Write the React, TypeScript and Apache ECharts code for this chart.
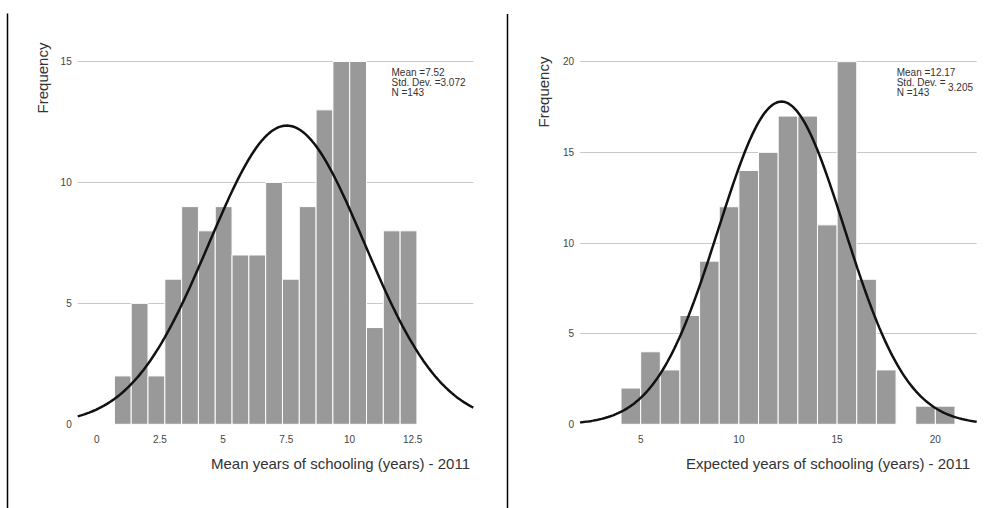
import React, { useEffect, useRef } from "react";
import * as echarts from "echarts";

// ---- Left histogram: Mean years of schooling (years) - 2011
const leftBinStart = 0.7;
const leftBinWidth = 0.665;
const leftCounts = [2, 5, 2, 6, 9, 8, 9, 7, 7, 10, 6, 9, 13, 15, 15, 4, 8, 8];
const leftMean = 7.52;
const leftSd = 3.072;
const leftN = 143;
const leftXTicks = [0, 2.5, 5, 7.5, 10, 12.5];
const leftYTicks = [0, 5, 10, 15];

// ---- Right histogram: Expected years of schooling (years) - 2011
const rightBinStart = 4;
const rightBinWidth = 1;
const rightCounts = [2, 4, 3, 6, 9, 12, 14, 15, 17, 17, 11, 20, 8, 3, 0, 1, 1];
const rightMean = 12.17;
const rightSd = 3.205;
const rightN = 143;
const rightXTicks = [5, 10, 15, 20];
const rightYTicks = [0, 5, 10, 15, 20];

const FONT = "'Liberation Sans', Arial, Helvetica, sans-serif";

function binData(start: number, width: number, counts: number[]) {
  return counts.map((c, i) => [start + i * width, start + (i + 1) * width, c]);
}

// Fitted normal curve defined by the stated Mean, Std. Dev. and N
function normalCurve(mean: number, sd: number, n: number, bw: number, x0: number, x1: number) {
  const pts: number[][] = [];
  const steps = 240;
  for (let i = 0; i <= steps; i++) {
    const x = x0 + ((x1 - x0) * i) / steps;
    const z = (x - mean) / sd;
    pts.push([x, (n * bw * Math.exp(-0.5 * z * z)) / (sd * Math.sqrt(2 * Math.PI))]);
  }
  return pts;
}

const renderBar = (params: any, api: any) => {
  const a = api.value(0);
  const b = api.value(1);
  const c = api.value(2);
  if (!c) return null;
  const p0 = api.coord([a, c]);
  const p1 = api.coord([b, 0]);
  return {
    type: "rect",
    shape: { x: p0[0], y: p0[1], width: p1[0] - p0[0], height: p1[1] - p0[1] },
    style: { fill: "#999999", stroke: "#ffffff", lineWidth: 1 },
  };
};

export default function App() {
  const ref = useRef<HTMLDivElement>(null);

  useEffect(() => {
    if (!ref.current) return;
    const chart = echarts.init(ref.current, undefined, { renderer: "svg" });

    const lMin = -0.752, lMax = 14.9;
    const rMin = 1.912, rMax = 22.105;

    const yAxisCommon = {
      type: "value" as const,
      min: 0,
      interval: 5,
      axisLine: { show: false },
      axisTick: { show: false },
      axisLabel: { color: "#444", fontSize: 10, fontFamily: FONT, margin: 6 },
      splitLine: { show: true, showMinLine: false, lineStyle: { color: "#c8c8c8", width: 1 } },
    };
    const xAxisCommon = {
      type: "value" as const,
      axisLine: { show: false },
      axisTick: { show: false },
      splitLine: { show: false },
    };

    const statStyle = {
      fontSize: 10,
      lineHeight: 10.2,
      fontFamily: FONT,
      fill: "#333",
      align: "left",
      verticalAlign: "top",
    };

    chart.setOption({
      animation: false,
      backgroundColor: "#ffffff",
      grid: [
        { left: 77.7, top: 61.5, width: 395.6, height: 362.8 },
        { left: 580, top: 61.7, width: 396.7, height: 362.6 },
      ],
      xAxis: [
        {
          ...xAxisCommon,
          gridIndex: 0,
          min: lMin,
          max: lMax,
          axisLabel: { customValues: leftXTicks, color: "#444", fontSize: 10, fontFamily: FONT, margin: 10 },
        },
        {
          ...xAxisCommon,
          gridIndex: 1,
          min: rMin,
          max: rMax,
          axisLabel: { customValues: rightXTicks, color: "#444", fontSize: 10, fontFamily: FONT, margin: 10 },
        },
      ],
      yAxis: [
        { ...yAxisCommon, gridIndex: 0, max: leftYTicks[leftYTicks.length - 1] },
        { ...yAxisCommon, gridIndex: 1, max: rightYTicks[rightYTicks.length - 1] },
      ],
      series: [
        {
          type: "custom",
          xAxisIndex: 0,
          yAxisIndex: 0,
          renderItem: renderBar,
          encode: { x: [0, 1], y: 2 },
          data: binData(leftBinStart, leftBinWidth, leftCounts),
          z: 2,
        },
        {
          type: "line",
          xAxisIndex: 0,
          yAxisIndex: 0,
          showSymbol: false,
          symbol: "none",
          data: normalCurve(leftMean, leftSd, leftN, leftBinWidth, lMin, lMax),
          lineStyle: { color: "#111", width: 2.5 },
          z: 3,
        },
        {
          type: "custom",
          xAxisIndex: 1,
          yAxisIndex: 1,
          renderItem: renderBar,
          encode: { x: [0, 1], y: 2 },
          data: binData(rightBinStart, rightBinWidth, rightCounts),
          z: 2,
        },
        {
          type: "line",
          xAxisIndex: 1,
          yAxisIndex: 1,
          showSymbol: false,
          symbol: "none",
          data: normalCurve(rightMean, rightSd, rightN, rightBinWidth, rMin, rMax),
          lineStyle: { color: "#111", width: 2.5 },
          z: 3,
        },
      ],
      graphic: [
        { type: "line", shape: { x1: 7.5, y1: 13.5, x2: 7.5, y2: 508 }, style: { stroke: "#000", lineWidth: 1.5 } },
        { type: "line", shape: { x1: 507.5, y1: 14, x2: 507.5, y2: 508 }, style: { stroke: "#000", lineWidth: 1.5 } },
        {
          type: "text",
          x: 42,
          y: 78,
          rotation: Math.PI / 2,
          style: { text: "Frequency", fontSize: 15, fontFamily: FONT, fill: "#333", align: "center", verticalAlign: "middle" },
        },
        {
          type: "text",
          x: 543.5,
          y: 92,
          rotation: Math.PI / 2,
          style: { text: "Frequency", fontSize: 15, fontFamily: FONT, fill: "#333", align: "center", verticalAlign: "middle" },
        },
        {
          type: "text",
          x: 470,
          y: 463,
          style: { text: "Mean years of schooling (years) - 2011", fontSize: 15, fontFamily: FONT, fill: "#333", align: "right", verticalAlign: "middle" },
        },
        {
          type: "text",
          x: 970,
          y: 463,
          style: { text: "Expected years of schooling (years) - 2011", fontSize: 15, fontFamily: FONT, fill: "#333", align: "right", verticalAlign: "middle" },
        },
        {
          type: "text",
          x: 391.5,
          y: 67,
          style: { ...statStyle, text: "Mean =" + leftMean + "\nStd. Dev. =" + leftSd.toFixed(3) + "\nN =" + leftN },
        },
        {
          type: "text",
          x: 896.7,
          y: 67,
          style: { ...statStyle, text: "Mean =" + rightMean + "\nStd. Dev. =\nN =" + rightN },
        },
        {
          type: "text",
          x: 948,
          y: 87.5,
          style: {
            text: rightSd.toFixed(3),
            fontSize: 10,
            fontFamily: FONT,
            fill: "#333",
            align: "left",
            verticalAlign: "middle",
          },
        },
      ],
    });

    return () => chart.dispose();
  }, []);

  return (
    <div
      ref={ref}
      style={{ position: "fixed", left: 0, top: 0, width: 987, height: 508, background: "#fff" }}
    />
  );
}
